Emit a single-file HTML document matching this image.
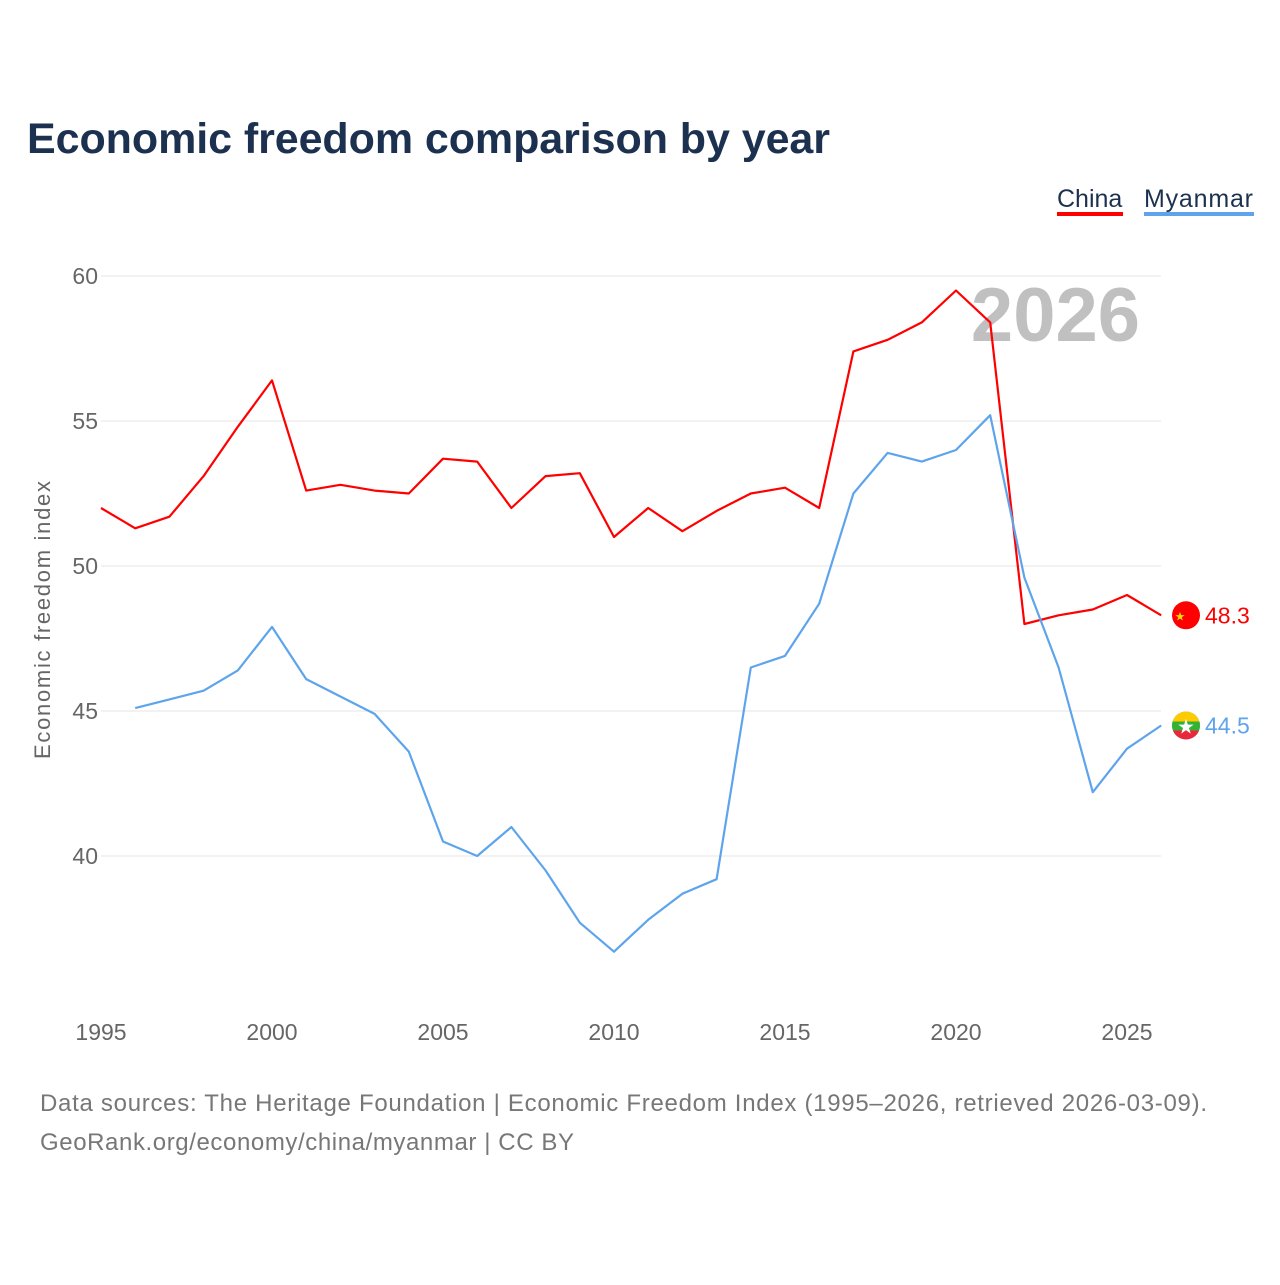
<!DOCTYPE html>
<html><head><meta charset="utf-8"><style>
body{margin:0;background:#fff;font-family:"Liberation Sans",sans-serif}
</style></head><body>
<svg id="chart" width="1280" height="1280" xmlns="http://www.w3.org/2000/svg">
<text x="27" y="153" font-size="43" font-weight="bold" fill="#1c3150" textLength="803">Economic freedom comparison by year</text>
<g>
<g><text x="1057" y="207" font-size="25" fill="#1c3150">China</text><rect x="1057" y="212" width="66" height="4" fill="#ff0000"/></g>
<g><text x="1144" y="207" font-size="25" fill="#1c3150" textLength="109">Myanmar</text><rect x="1144" y="212" width="110" height="4" fill="#5ea4ec"/></g>
</g>
<g id="grid"></g>
<text x="1140" y="341" font-size="76" font-weight="bold" fill="#c0c0c0" text-anchor="end">2026</text>
<text transform="translate(50,620) rotate(-90)" font-size="22" fill="#666" text-anchor="middle" textLength="278">Economic freedom index</text>
<g id="series"></g>
<text x="40" y="1111" font-size="24" fill="#777" textLength="1167">Data sources: The Heritage Foundation | Economic Freedom Index (1995–2026, retrieved 2026-03-09).</text>
<text x="40" y="1150" font-size="24" fill="#777" textLength="534">GeoRank.org/economy/china/myanmar | CC BY</text>
</svg>
<script>
const years=[1995,1996,1997,1998,1999,2000,2001,2002,2003,2004,2005,2006,2007,2008,2009,2010,2011,2012,2013,2014,2015,2016,2017,2018,2019,2020,2021,2022,2023,2024,2025,2026];
const china=[52.0,51.3,51.7,53.1,54.8,56.4,52.6,52.8,52.6,52.5,53.7,53.6,52.0,53.1,53.2,51.0,52.0,51.2,51.9,52.5,52.7,52.0,57.4,57.8,58.4,59.5,58.4,48.0,48.3,48.5,49.0,48.3];
const myanmar=[null,45.1,45.4,45.7,46.4,47.9,46.1,45.5,44.9,43.6,40.5,40.0,41.0,39.5,37.7,36.7,37.8,38.7,39.2,46.5,46.9,48.7,52.5,53.9,53.6,54.0,55.2,49.6,46.5,42.2,43.7,44.5];
const yTicks=[40,45,50,55,60];
const xTicks=[1995,2000,2005,2010,2015,2020,2025];
const NS="http://www.w3.org/2000/svg";
const X=y=>101+(y-1995)*34.2;
const Y=v=>276+(60-v)*29;
function el(t,a,p){const e=document.createElementNS(NS,t);for(const k in a)e.setAttribute(k,a[k]);p.appendChild(e);return e;}
const g=document.getElementById('grid'),s=document.getElementById('series');
yTicks.forEach(v=>{
 const l=el('line',{x1:101,x2:1161,y1:Y(v),y2:Y(v),stroke:'#e6e6e6','stroke-width':1},g);
 
 
 const t=el('text',{x:98,y:Y(v)+8,'font-size':23,fill:'#666','text-anchor':'end'},g);t.textContent=v;
 
 
});
xTicks.forEach(v=>{
 const t=el('text',{x:X(v),y:1040,'font-size':23,fill:'#666','text-anchor':'middle'},g);t.textContent=v;
 
 
});
function line(vals,color,name){
 const pts=[];vals.forEach((v,i)=>{if(v!=null)pts.push(X(years[i])+','+Y(v));});
 const p=el('polyline',{points:pts.join(' '),fill:'none',stroke:color,'stroke-width':2.2,'stroke-linejoin':'round'},s);
 
 
 const last=vals[vals.length-1];
 const c=el('circle',{cx:1186,cy:Y(last),r:14,fill:color},s);
 
 
 const t=el('text',{x:1205,y:Y(last)+8,'font-size':23,fill:color},s);t.textContent=last.toFixed(1);
 
 
 return last;
}
line(china,'#ff0000','china');
const ml=line(myanmar,'#5ea4ec','myanmar');
const cl=china[china.length-1];
const st=el('text',{x:1180,y:Y(cl)+5,'font-size':12,fill:'#ffde00','text-anchor':'middle'},s);st.textContent='★';


const cp=el('clipPath',{id:'mmclip'},s);el('circle',{cx:1186,cy:Y(ml),r:14},cp);
const fg=el('g',{'clip-path':'url(#mmclip)'},s);


el('rect',{x:1172,y:Y(ml)-14,width:28,height:10,fill:'#fecb00'},fg);
el('rect',{x:1172,y:Y(ml)-4,width:28,height:9,fill:'#34b233'},fg);
el('rect',{x:1172,y:Y(ml)+5,width:28,height:10,fill:'#ea2839'},fg);
const ms=el('text',{x:1186,y:Y(ml)+8,'font-size':20,fill:'#fff','text-anchor':'middle'},fg);ms.textContent='★';
</script>
</body></html>
